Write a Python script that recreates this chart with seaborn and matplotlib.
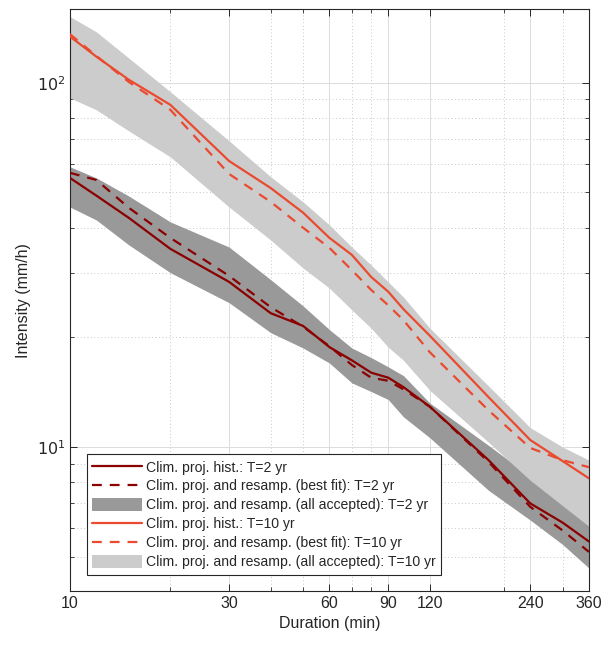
import numpy as np
import pandas as pd
import seaborn as sns
import matplotlib.pyplot as plt
from matplotlib.lines import Line2D
from matplotlib.patches import Patch
from matplotlib.ticker import FixedLocator, NullFormatter

# durations (min)
durations = [10, 12, 15, 20, 30, 40, 50, 60, 70, 80, 90, 100, 120, 180, 240, 300, 360]

# T=2 yr
t2_hist = [54.8, 49.0, 42.6, 35.0, 28.4, 23.3, 21.5, 18.8, 17.3, 16.0, 15.5, 14.6, 12.9, 9.2, 7.0, 6.2, 5.5]
t2_best = [56.6, 54.1, 45.4, 37.5, 29.5, 24.2, 21.4, 18.9, 16.8, 15.5, 15.2, 14.4, 12.9, 9.1, 6.85, 5.9, 5.15]
t2_low = [45.6, 42.0, 35.9, 30.1, 24.9, 20.6, 18.7, 17.0, 15.0, 14.2, 13.5, 12.1, 10.6, 7.6, 6.3, 5.4, 4.65]
t2_high = [58.8, 54.8, 48.9, 41.5, 35.4, 28.8, 24.4, 21.0, 18.7, 17.6, 16.6, 15.7, 13.2, 10.1, 8.3, 7.1, 6.2]

# T=10 yr
t10_hist = [134, 118, 102, 87, 61, 51.4, 44, 37.5, 33.7, 29.3, 26.7, 23.9, 20.2, 13.7, 10.45, 9.15, 8.2]
t10_best = [136, 118.5, 100.6, 84.3, 56.2, 47.1, 40.0, 35.2, 30.6, 27.0, 24.5, 22.3, 18.2, 12.6, 9.94, 9.2, 8.8]
t10_low = [90.9, 84.3, 73.8, 62.6, 45.6, 37.0, 31.0, 27.3, 23.8, 21.2, 18.8, 17.3, 14.3, 10.3, 8.1, 6.9, 6.05]
t10_high = [152, 138, 117, 94.5, 69.3, 55.2, 47.1, 40.7, 35.4, 31.6, 28.4, 25.8, 21.2, 14.7, 11.3, 10.0, 9.2]

labels = ["Clim. proj. hist.: T=2 yr",
          "Clim. proj. and resamp. (best fit): T=2 yr",
          "Clim. proj. and resamp. (all accepted): T=2 yr",
          "Clim. proj. hist.: T=10 yr",
          "Clim. proj. and resamp. (best fit): T=10 yr",
          "Clim. proj. and resamp. (all accepted): T=10 yr"]

xticks = [10, 30, 60, 90, 120, 240, 360]
xminor = [20, 40, 50, 70, 80, 200, 300]

df = pd.DataFrame({"d": durations, "t2h": t2_hist, "t2b": t2_best,
                   "t10h": t10_hist, "t10b": t10_best})

sns.set_style("ticks")
plt.rcParams['font.family'] = ['Liberation Sans', 'DejaVu Sans']
txt = '#262626'
plt.rcParams['text.color'] = txt
plt.rcParams['axes.labelcolor'] = txt
plt.rcParams['xtick.color'] = txt
plt.rcParams['ytick.color'] = txt

c2 = '#8b0000'
c10 = '#ea4a2f'
dash = (0, (4.4, 3.6))

fig = plt.figure(figsize=(6.15, 6.49), dpi=100)
ax = fig.add_axes([0.1138, 0.0898, 0.8439, 0.8956])

ax.fill_between(durations, t2_low, t2_high, color='#999999', lw=0, zorder=1)
ax.fill_between(durations, t10_low, t10_high, color='#cccccc', lw=0, zorder=1.1)

sns.lineplot(data=df, x="d", y="t2h", ax=ax, color=c2, lw=1.6, zorder=3)
sns.lineplot(data=df, x="d", y="t2b", ax=ax, color=c2, lw=1.6, linestyle=dash, zorder=3)
sns.lineplot(data=df, x="d", y="t10h", ax=ax, color=c10, lw=1.6, zorder=3)
sns.lineplot(data=df, x="d", y="t10b", ax=ax, color=c10, lw=1.6, linestyle=dash, zorder=3)

ax.set_xscale('log')
ax.set_yscale('log')
ax.set_xlim(10, 360)
ax.set_ylim(4.03, 159)

ax.xaxis.set_major_locator(FixedLocator(xticks))
ax.xaxis.set_minor_locator(FixedLocator(xminor))
ax.set_xticklabels([str(t) for t in xticks])
ax.xaxis.set_minor_formatter(NullFormatter())
ax.yaxis.set_major_locator(FixedLocator([10, 100]))
ax.set_yticklabels([r'$10^1$', r'$10^2$'])
ax.yaxis.set_minor_locator(FixedLocator([5, 6, 7, 8, 9, 20, 30, 40, 50, 60, 70, 80, 90]))
ax.yaxis.set_minor_formatter(NullFormatter())

ax.grid(True, which='major', color='#dcdcdc', lw=0.7, ls='-', zorder=0)
ax.grid(True, which='minor', color='#c8c8c8', lw=0.7, ls=(0, (1, 2.5)), zorder=0)
ax.set_axisbelow(True)

ax.tick_params(which='both', direction='in', top=True, right=True, labelsize=11.5)
ax.tick_params(which='major', length=5, width=0.7)
ax.tick_params(which='minor', length=3, width=0.6)
for s in ax.spines.values():
    s.set_color(txt)
    s.set_linewidth(0.8)

ax.set_xlabel("Duration (min)", fontsize=11.5, labelpad=4)
ax.set_ylabel("Intensity (mm/h)", fontsize=11.5, labelpad=4)

handles = [Line2D([], [], color=c2, lw=1.6),
           Line2D([], [], color=c2, lw=1.6, linestyle=dash),
           Patch(facecolor='#999999', edgecolor='none'),
           Line2D([], [], color=c10, lw=1.6),
           Line2D([], [], color=c10, lw=1.6, linestyle=dash),
           Patch(facecolor='#cccccc', edgecolor='none')]
leg = ax.legend(handles, labels, loc='lower left', bbox_to_anchor=(0.032, 0.027),
                fontsize=10.1, frameon=True, fancybox=False, framealpha=1,
                handlelength=3.5, handleheight=1.05, handletextpad=0.3,
                labelspacing=0.33, borderpad=0.42, borderaxespad=0)
leg.get_frame().set_edgecolor(txt)
leg.get_frame().set_linewidth(0.8)

fig.savefig('out.png', dpi=100)
